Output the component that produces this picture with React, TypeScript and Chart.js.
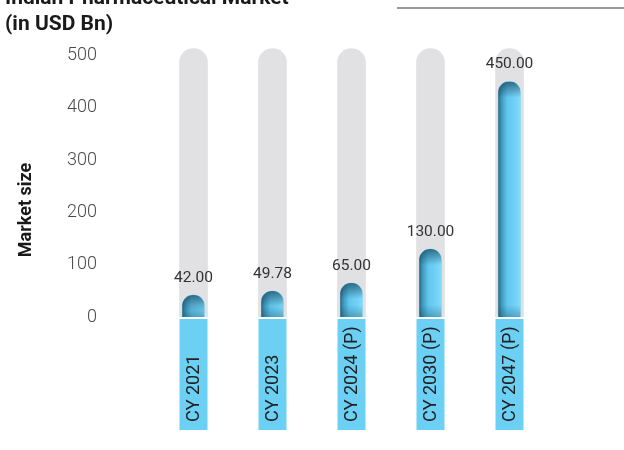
import React, { useEffect, useRef } from "react";
import { Chart, registerables } from "chart.js";

Chart.register(...registerables);

const categories = ["CY 2021", "CY 2023", "CY 2024 (P)", "CY 2030 (P)", "CY 2047 (P)"];
const marketSize = [42.0, 49.78, 65.0, 130.0, 450.0];
const trackValues = [513, 513, 513, 513, 513];
const yTicks = [0, 100, 200, 300, 400, 500];
const titleLines = ["Indian Pharmaceutical Market", "(in USD Bn)"];
const yAxisTitle = "Market size";

const FONT = "Roboto, 'Noto Sans', sans-serif";

const decorPlugin = {
  id: "decor",
  afterDatasetsDraw(chart: any) {
    const ctx = chart.ctx;
    const meta = chart.getDatasetMeta(1);
    meta.data.forEach((el: any, i: number) => {
      const { x, y, base, width } = el.getProps(["x", "y", "base", "width"], true);
      const left = x - width / 2;
      const r = width / 2;
      ctx.save();
      ctx.beginPath();
      ctx.moveTo(left, base);
      ctx.lineTo(left, y + r);
      ctx.arc(x, y + r, r, Math.PI, 0);
      ctx.lineTo(left + width, base);
      ctx.closePath();
      ctx.clip();
      const g = ctx.createLinearGradient(0, y, 0, y + 16);
      g.addColorStop(0, "rgba(15,55,75,0.65)");
      g.addColorStop(1, "rgba(15,55,75,0)");
      ctx.fillStyle = g;
      ctx.fillRect(left, y, width, 16);
      const g2 = ctx.createLinearGradient(0, base - 12, 0, base);
      g2.addColorStop(0, "rgba(15,55,75,0)");
      g2.addColorStop(1, "rgba(15,55,75,0.3)");
      ctx.fillStyle = g2;
      ctx.fillRect(left, base - 12, width, 12);
      ctx.restore();

      ctx.save();
      ctx.font = `15.5px ${FONT}`;
      ctx.fillStyle = "#333333";
      ctx.textAlign = "center";
      ctx.textBaseline = "middle";
      ctx.fillText(marketSize[i].toFixed(2), x, y - 17);
      ctx.restore();
    });
  },
  afterDraw(chart: any) {
    const ctx = chart.ctx;
    const xs = chart.scales.x;
    const bottom = chart.chartArea.bottom;
    ctx.save();
    categories.forEach((c, i) => {
      const x = xs.getPixelForValue(i);
      ctx.fillStyle = "#6ccff4";
      ctx.fillRect(x - 14, bottom + 2, 28, 111);
      ctx.save();
      ctx.translate(x + 1, bottom + 105);
      ctx.rotate(-Math.PI / 2);
      ctx.font = `18px ${FONT}`;
      ctx.fillStyle = "#222222";
      ctx.textAlign = "left";
      ctx.textBaseline = "middle";
      ctx.fillText(c, 0, 0);
      ctx.restore();
    });
    // title
    ctx.font = `bold 21px ${FONT}`;
    ctx.fillStyle = "#1a1a1a";
    ctx.textAlign = "left";
    ctx.textBaseline = "alphabetic";
    ctx.fillText(titleLines[0], 5, 4);
    ctx.fillText(titleLines[1], 5, 30);
    // y axis title
    ctx.save();
    ctx.translate(26, 210);
    ctx.rotate(-Math.PI / 2);
    ctx.font = `bold 18px ${FONT}`;
    ctx.textAlign = "center";
    ctx.textBaseline = "middle";
    ctx.fillText(yAxisTitle, 0, 0);
    ctx.restore();
    // top right line
    ctx.strokeStyle = "#777777";
    ctx.lineWidth = 1.5;
    ctx.beginPath();
    ctx.moveTo(397, 8);
    ctx.lineTo(624, 8);
    ctx.stroke();
    ctx.restore();
  },
};

export default function App() {
  const ref = useRef<HTMLCanvasElement>(null);
  useEffect(() => {
    if (!ref.current) return;
    const chart = new Chart(ref.current, {
      type: "bar",
      data: {
        labels: categories,
        datasets: [
          {
            data: trackValues,
            backgroundColor: "#e1e1e3",
            barThickness: 28,
            borderRadius: 14,
            grouped: false,
            order: 2,
          },
          {
            data: marketSize,
            backgroundColor: (c: any) => {
              const ch = c.chart;
              if (!ch.chartArea) return "#6ccff4";
              const x = ch.scales.x.getPixelForValue(c.dataIndex);
              const g = ch.ctx.createLinearGradient(x - 11, 0, x + 11, 0);
              g.addColorStop(0, "#2a6f8a");
              g.addColorStop(0.15, "#3f9cc0");
              g.addColorStop(0.4, "#62c6ee");
              g.addColorStop(0.75, "#6fd2f7");
              g.addColorStop(1, "#86daf8");
              return g;
            },
            barThickness: 22,
            borderRadius: 11,
            grouped: false,
            order: 1,
          },
        ],
      },
      options: {
        animation: false,
        responsive: false,
        layout: { padding: { top: 45, bottom: 133, left: 0, right: 75 } },
        plugins: { legend: { display: false }, tooltip: { enabled: false }, title: { display: false } },
        scales: {
          x: { display: false, offset: true },
          y: {
            min: 0,
            max: 520,
            afterBuildTicks: (s: any) => {
              s.ticks = yTicks.map((v) => ({ value: v }));
            },
            afterFit: (s: any) => {
              s.width = 154;
              s.paddingTop = 10;
              s.paddingBottom = 10;
            },
            grid: { display: false, drawTicks: false },
            border: { display: false },
            ticks: {
              padding: 57,
              color: "#4a4a4a",
              font: { family: FONT, size: 18, weight: 300 },
            },
          },
        },
      },
      plugins: [decorPlugin],
    } as any);
    return () => chart.destroy();
  }, []);
  return (
    <div style={{ position: "fixed", top: 0, left: 0, width: 624, height: 450, background: "#fff" }}>
      <canvas ref={ref} width={624} height={450} />
    </div>
  );
}
